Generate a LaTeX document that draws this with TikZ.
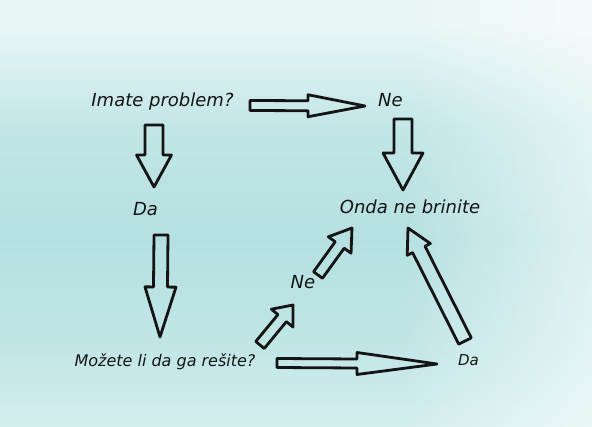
\documentclass[tikz,border=0pt]{standalone}
\usepackage{fontspec}
\setmainfont{DejaVu Sans}
\usetikzlibrary{calc,fadings}

\definecolor{skytop}{HTML}{E9F6F6}
\definecolor{skymid}{HTML}{C2E6E6}
\definecolor{skydeep}{HTML}{B5E0E1}
\definecolor{skybot}{HTML}{D4EEEE}
\definecolor{ink}{HTML}{141414}

\pgfdeclareverticalshading{sky}{100bp}{color(0bp)=(skybot); color(25bp)=(skybot);
  color(34bp)=(skymid); color(47bp)=(skydeep); color(60bp)=(skymid);
  color(72bp)=(skytop); color(100bp)=(skytop)}
\tikzfading[name=rightlight, left color=transparent!100, right color=transparent!45]

% block arrow: from, to, shaft half width, head half width, head length
\newcommand{\fatarrow}[5]{%
  \coordinate (hd) at ($(#2)!#5!(#1)$);
  \draw[fat] ($(#1)!#3!90:(#2)$) -- ($(hd)!#3!90:(#2)$) -- ($(hd)!#4!90:(#2)$)
    -- (#2) -- ($(hd)!#4!-90:(#2)$) -- ($(hd)!#3!-90:(#2)$) -- ($(#1)!#3!-90:(#2)$) -- cycle;
}

\begin{document}
\begin{tikzpicture}[x=1pt, y=-1pt,
  txt/.style = {anchor=base, inner sep=0pt, text=ink, font=\fontsize{18}{20}\selectfont\itshape},
  small/.style = {txt, font=\fontsize{16}{18}\selectfont\itshape},
  fat/.style = {draw=ink, line width=2.8pt, line join=round}]
\shade[shading=sky] (0,0) rectangle (592,427);
\fill[white, path fading=rightlight] (400,0) rectangle (592,427);
\useasboundingbox (0,0) rectangle (592,427);

\node[txt] (imate) at (162.5,107) {Imate problem?};
\node[txt] (ne1) at (390.5,107) {Ne};
\node[txt] (da1) at (145.5,216) {Da};
\node[txt] (onda) at (410,214) {Onda ne brinite};
\node[txt] (ne2) at (303,289) {Ne};
\node[small] (mozete) at (165,367) {Možete li da ga rešite?};
\node[small, font=\fontsize{15}{17}\selectfont\itshape] (da2) at (468.5,366) {Da};

% arrow ends
\coordinate (p1) at (154,125); \coordinate (q1) at (154,187);
\coordinate (p2) at (250,105.5); \coordinate (q2) at (365,106);
\coordinate (p3) at (403,119); \coordinate (q3) at (403,190);
\coordinate (p4) at (161,235); \coordinate (q4) at (160,337);
\coordinate (p5) at (260,345); \coordinate (q5) at (293,305);
\coordinate (p6) at (318,275); \coordinate (q6) at (352,228);
\coordinate (p7) at (277,363); \coordinate (q7) at (437,364);
\coordinate (p8) at (465,341); \coordinate (q8) at (408,228);

\fatarrow{p1}{q1}{9pt}{17.5pt}{32pt}
\fatarrow{p2}{q2}{5pt}{11pt}{57pt}
\fatarrow{p3}{q3}{9pt}{20pt}{37pt}
\fatarrow{p4}{q4}{7pt}{15.5pt}{50pt}
\fatarrow{p5}{q5}{5.5pt}{14pt}{17pt}
\fatarrow{p6}{q6}{5.5pt}{14pt}{21pt}
\fatarrow{p7}{q7}{4.5pt}{11pt}{80pt}
\fatarrow{p8}{q8}{7pt}{13pt}{24pt}
\end{tikzpicture}
\end{document}
